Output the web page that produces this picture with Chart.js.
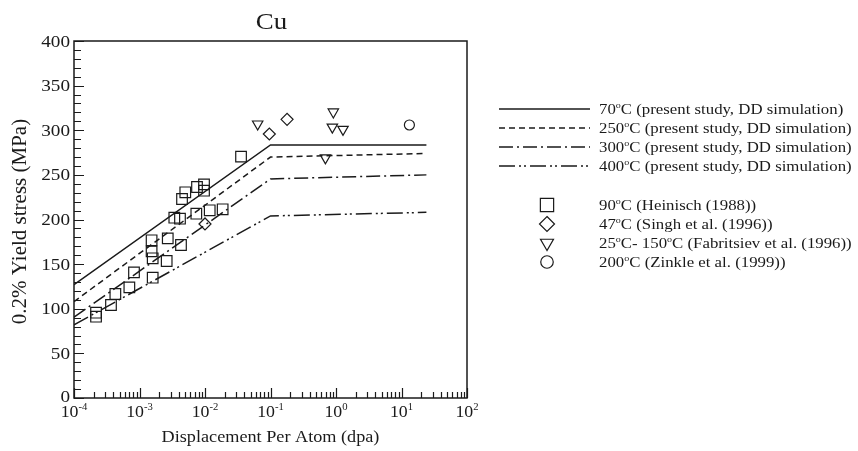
<!DOCTYPE html>
<html>
<head>
<meta charset="utf-8">
<script src="https://cdn.jsdelivr.net/npm/chart.js"></script>
<style>
  html, body { margin: 0; padding: 0; background: #fff; }
  #wrap { width: 858px; height: 451px; }
</style>
</head>
<body>
<div id="wrap"><canvas id="c" width="858" height="451"></canvas></div>
<script>
// ---- data -------------------------------------------------------------
// DD simulation curves (dpa, MPa)
const simX   = [1e-4, 0.1, 24];
const sim70  = [127, 283.5, 283.5];
const sim250 = [108, 270, 274];
const sim300 = [90.5, 245.5, 250];
const sim400 = [82, 204, 208];

// experimental data
const heinischX = [2.17e-4, 2.17e-4, 3.67e-4, 4.28e-4, 7.0e-4, 8.24e-4, 1.53e-3, 1.53e-3,
                   1.59e-3, 1.59e-3, 2.7e-3, 2.6e-3, 3.4e-3, 4.15e-3, 4.3e-3, 4.46e-3,
                   5.0e-3, 7.37e-3, 7.55e-3, 9.66e-3, 9.66e-3, 0.0118, 0.0186, 0.0355];
const heinischY = [95.6, 91.1, 104.2, 116.5, 124, 140.8, 176.7, 164.3,
                   156.5, 134.8, 178.9, 153.5, 202, 200.9, 171.4, 223,
                   230.5, 206.5, 236.4, 239.4, 232.3, 210.3, 211.4, 270.4];
const singhX = [0.096, 0.179, 0.01];
const singhY = [295.8, 312.2, 195];
const fabX = [0.0637, 0.91, 0.88, 1.28, 0.69];
const fabY = [307, 320.5, 303.5, 301, 269];
const zinkleX = [13.2];
const zinkleY = [305.9];

// axis ticks
const yTicks = [0, 50, 100, 150, 200, 250, 300, 350, 400];
const yMinorStep = 10;
const xDecades = [-4, -3, -2, -1, 0, 1, 2];

// legend labels: [main, superscript, rest]
const legendLines = [
  ['70', 'o', 'C (present study, DD simulation)'],
  ['250', 'o', 'C (present study, DD simulation)'],
  ['300', 'o', 'C (present study, DD simulation)'],
  ['400', 'o', 'C (present study, DD simulation)']
];
const legendMarks = [
  [['90', 0], ['o', 1], ['C (Heinisch (1988))', 0]],
  [['47', 0], ['o', 1], ['C (Singh et al. (1996))', 0]],
  [['25', 0], ['o', 1], ['C- 150', 0], ['o', 1], ['C (Fabritsiev et al. (1996))', 0]],
  [['200', 0], ['o', 1], ['C (Zinkle et al. (1999))', 0]]
];

const titleText = 'Cu';
const xTitle = 'Displacement Per Atom (dpa)';
const yTitle = '0.2% Yield stress (MPa)';

// ---- helpers ----------------------------------------------------------
const SERIF = '"Liberation Serif", "Times New Roman", serif';
const INK = '#1a1a1a';
const pts = (xs, ys) => xs.map((x, i) => ({ x: x, y: ys[i] }));

function richWidth(ctx, segs, size, sx) {
  let w = 0;
  for (const [t, sup] of segs) {
    ctx.font = (sup ? size * 0.6 : size) + 'px ' + SERIF;
    w += ctx.measureText(t).width;
  }
  return w * sx;
}
function drawRich(ctx, segs, x, y, size, sx, align, supRaise) {
  const w = richWidth(ctx, segs, size, sx);
  const x0 = align === 'center' ? x - w / 2 : align === 'right' ? x - w : x;
  ctx.save();
  ctx.translate(x0, y);
  ctx.scale(sx, 1);
  ctx.textAlign = 'left';
  ctx.textBaseline = 'alphabetic';
  ctx.fillStyle = INK;
  let px = 0;
  for (const [t, sup] of segs) {
    ctx.font = (sup ? size * 0.6 : size) + 'px ' + SERIF;
    ctx.fillText(t, px, sup ? -size * (supRaise || 0.38) : 0);
    px += ctx.measureText(t).width;
  }
  ctx.restore();
}

function markerPath(ctx, style, x, y, r, rot) {
  ctx.beginPath();
  if (style === 'rect') {
    const s = r * Math.SQRT1_2;
    ctx.rect(x - s, y - s, 2 * s, 2 * s);
  } else if (style === 'rectRot') {
    ctx.moveTo(x, y - r); ctx.lineTo(x + r, y); ctx.lineTo(x, y + r); ctx.lineTo(x - r, y); ctx.closePath();
  } else if (style === 'triangle') {
    let a = (rot || 0) * Math.PI / 180;
    ctx.moveTo(x + Math.sin(a) * r, y - Math.cos(a) * r);
    a += 2 * Math.PI / 3;
    ctx.lineTo(x + Math.sin(a) * r, y - Math.cos(a) * r);
    a += 2 * Math.PI / 3;
    ctx.lineTo(x + Math.sin(a) * r, y - Math.cos(a) * r);
    ctx.closePath();
  } else {
    ctx.arc(x, y, r, 0, Math.PI * 2);
  }
  ctx.stroke();
}

// frame, inward ticks, labels, titles and legend
const decorations = {
  id: 'decorations',
  afterDatasetsDraw(chart) {
    const ctx = chart.ctx;
    const a = chart.chartArea;
    const xs = chart.scales.x, ys = chart.scales.y;
    ctx.save();
    ctx.strokeStyle = INK;
    ctx.lineWidth = 1.5;
    ctx.strokeRect(a.left, a.top, a.right - a.left, a.bottom - a.top);

    // y ticks
    ctx.lineWidth = 1.2;
    ctx.beginPath();
    for (let v = 0; v <= 400; v += yMinorStep) {
      const py = Math.round(ys.getPixelForValue(v)) + 0.5;
      const len = v % 50 === 0 ? 10 : 7;
      ctx.moveTo(a.left, py); ctx.lineTo(a.left + len, py);
    }
    // x ticks
    for (const d of xDecades) {
      for (let m = 1; m <= 9; m++) {
        if (d === 2 && m > 1) break;
        const px = Math.round(xs.getPixelForValue(m * Math.pow(10, d))) + 0.5;
        const len = m === 1 ? 10 : 6;
        ctx.moveTo(px, a.bottom); ctx.lineTo(px, a.bottom - len);
      }
    }
    ctx.stroke();

    // tick labels
    for (const v of yTicks) {
      const dy = v === 0 ? 3.5 : 5.5;
      drawRich(ctx, [[String(v), 0]], a.left - 4, ys.getPixelForValue(v) + dy, 16, 1.2, 'right');
    }
    for (const d of xDecades) {
      drawRich(ctx, [['10', 0], [String(d), 1]], xs.getPixelForValue(Math.pow(10, d)), a.bottom + 19,
               16.5, 1.08, 'center', 0.42);
    }

    // titles
    drawRich(ctx, [[titleText, 0]], (a.left + a.right) / 2 + 1, 29, 24, 1.12, 'center');
    drawRich(ctx, [[xTitle, 0]], (a.left + a.right) / 2 + 0, 442, 17.5, 1.04, 'center');
    ctx.save();
    ctx.translate(26, (a.top + a.bottom) / 2 + 2);
    ctx.rotate(-Math.PI / 2);
    drawRich(ctx, [[yTitle, 0]], 0, 0, 21, 1.0, 'center');
    ctx.restore();

    // legend
    const lx0 = 499, lx1 = 590, tx = 599;
    const lineSets = chart.data.datasets.slice(0, 4);
    lineSets.forEach((ds, i) => {
      const y = 109 + i * 19;
      ctx.save();
      ctx.strokeStyle = ds.borderColor;
      ctx.lineWidth = ds.borderWidth;
      ctx.setLineDash(ds.borderDash || []);
      ctx.beginPath(); ctx.moveTo(lx0, y); ctx.lineTo(lx1, y); ctx.stroke();
      ctx.restore();
      const [m, s, r] = legendLines[i];
      drawRich(ctx, [[m, 0], [s, 1], [r, 0]], tx, y + 5, 15, 1.12, 'left');
    });
    const markSets = chart.data.datasets.slice(4);
    markSets.forEach((ds, i) => {
      const y = 205 + i * 19;
      ctx.save();
      ctx.strokeStyle = ds.pointBorderColor;
      ctx.lineWidth = ds.pointBorderWidth;
      markerPath(ctx, ds.pointStyle, 547, y, ds.pointRadius * 1.25, ds.pointRotation);
      ctx.restore();
      drawRich(ctx, legendMarks[i], tx, y + 5, 15, 1.12, 'left');
    });
    ctx.restore();
  }
};

const lineDs = (data, dash) => ({
  type: 'line', data: pts(simX, data), borderColor: INK, borderWidth: 1.5,
  borderDash: dash, pointRadius: 0, tension: 0, fill: false
});
const markDs = (xs, ys, style, r, rot) => ({
  type: 'line', data: pts(xs, ys), showLine: false, pointStyle: style,
  pointRadius: r, pointRotation: rot || 0, pointBorderColor: INK,
  pointBackgroundColor: 'rgba(0,0,0,0)', pointBorderWidth: 1.2, clip: false
});

new Chart(document.getElementById('c'), {
  type: 'line',
  data: {
    datasets: [
      lineDs(sim70, []),
      lineDs(sim250, [6, 4]),
      lineDs(sim300, [14, 4, 2, 4]),
      lineDs(sim400, [16, 4, 2, 3, 2, 4]),
      markDs(heinischX, heinischY, 'rect', 7.5),
      markDs(singhX, singhY, 'rectRot', 6),
      markDs(fabX, fabY, 'triangle', 6, 180),
      markDs(zinkleX, zinkleY, 'circle', 5)
    ]
  },
  options: {
    responsive: false,
    animation: false,
    events: [],
    layout: { padding: { left: 74, right: 391, top: 41, bottom: 53 } },
    scales: {
      x: { type: 'logarithmic', min: 1e-4, max: 100, display: false },
      y: { type: 'linear', min: 0, max: 400, display: false }
    },
    plugins: { legend: { display: false }, tooltip: { enabled: false }, title: { display: false } }
  },
  plugins: [decorations]
});
</script>
</body>
</html>
